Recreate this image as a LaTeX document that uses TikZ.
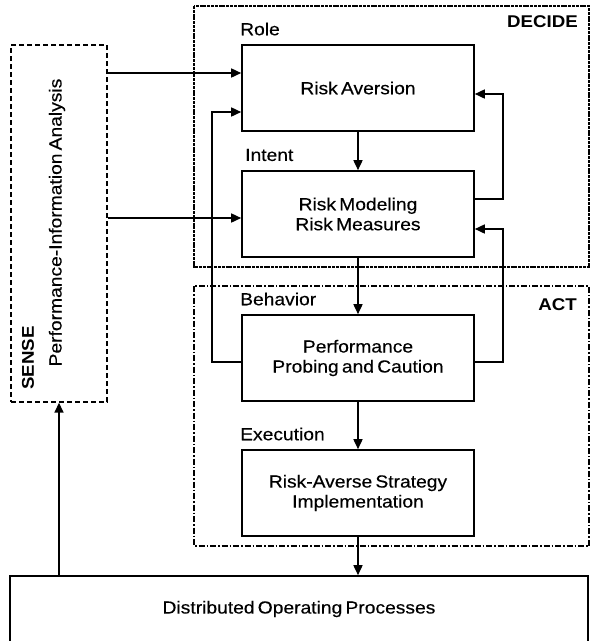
\documentclass[tikz,border=0pt]{standalone}
\usepackage{fontspec}
\setmainfont{Liberation Sans}[FakeStretch=1.1,WordSpace=0.6,UprightFeatures={FakeBold=0.3}]
\usetikzlibrary{arrows.meta}
\begin{document}
\begin{tikzpicture}[x=1pt,y=-1pt,
  every node/.style={font=\fontsize{17.5}{20}\selectfont},
  blk/.style={draw,line width=1.6pt,minimum width=232pt,minimum height=86pt,align=center,inner sep=0pt},
  lbl/.style={anchor=west,inner sep=0pt},
  grp/.style={anchor=east,inner sep=0pt,font=\fontsize{17}{20}\selectfont\bfseries},
  arr/.style={line width=1.6pt,-{Triangle[length=10pt,width=9pt]}},
  ln/.style={line width=1.6pt}]
\useasboundingbox (0,0) rectangle (591,641);
% group frames
\draw[line width=1.3pt,dash pattern=on 3pt off 0.8pt] (194,6) rectangle (589,267);
\draw[line width=1.3pt,dash pattern=on 6pt off 2pt on 1.5pt off 2pt] (194,286) rectangle (589,546);
\node[grp] (decide) at (578,22) {DECIDE};
\node[grp] (act) at (577,305) {ACT};
% sense box
\node[draw,line width=1.4pt,dash pattern=on 5pt off 3pt,minimum width=96pt,minimum height=357pt,inner sep=0pt] (sense) at (59,223.5) {};
\node[rotate=90,inner sep=0pt] (pia) at (57,222.5) {Performance-Information Analysis};
\node[rotate=90,inner sep=0pt,font=\fontsize{17}{20}\selectfont\bfseries] (sensel) at (28,358) {SENSE};
% blocks
\node[blk] (ra) at (358,88) {Risk Aversion};
\node[blk] (rm) at (358,214) {Risk Modeling\\Risk Measures};
\node[blk] (pp) at (358,358) {Performance\\Probing and Caution};
\node[blk] (rs) at (358,493) {Risk-Averse Strategy\\Implementation};
\node[draw,line width=1.6pt,minimum width=578pt,minimum height=66pt,inner sep=0pt] (dop) at (299,609) {Distributed Operating Processes};
% labels
\node[lbl] (role) at (240,29) {Role};
\node[lbl] (intent) at (245,155) {Intent};
\node[lbl] (beh) at (240,299) {Behavior};
\node[lbl] (exe) at (240,434) {Execution};
% connectors
\draw[arr] (sense.east |- 0,73) -- ([yshift=15pt]ra.west);
\draw[arr] (sense.east |- 0,218) -- ([yshift=-4pt]rm.west);
\draw[arr] ([yshift=-4pt]pp.west) -- ++(-29,0) |- ([yshift=-24pt]ra.west);
\draw[arr] ([yshift=15pt]rm.east) -- ++(28,0) |- ([yshift=-6pt]ra.east);
\draw[arr] ([yshift=-4pt]pp.east) -- ++(28,0) |- ([yshift=-15pt]rm.east);
\draw[arr] (ra.south) -- (rm.north);
\draw[arr] (rm.south) -- (pp.north);
\draw[arr] (pp.south) -- (rs.north);
\draw[arr] (rs.south) -- (rs.south |- dop.north);
\draw[arr] (sense.south |- dop.north) -- (sense.south);
\end{tikzpicture}
\end{document}
